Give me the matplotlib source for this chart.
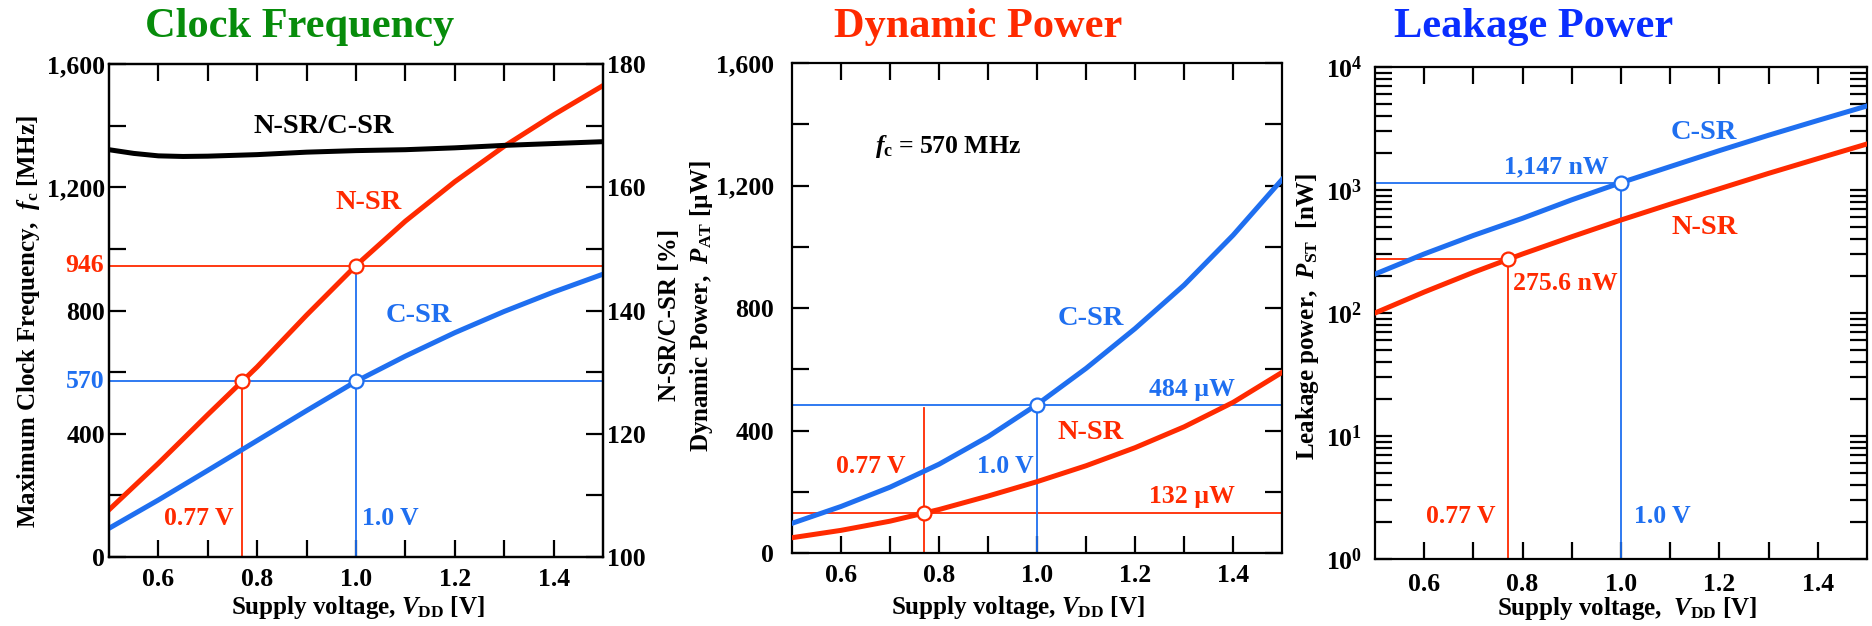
import matplotlib
matplotlib.use('Agg')
import matplotlib.pyplot as plt
import numpy as np
from matplotlib.ticker import LogLocator, NullFormatter

plt.rcParams['font.family'] = 'Liberation Serif'
plt.rcParams['font.weight'] = 'bold'
plt.rcParams['mathtext.fontset'] = 'custom'
plt.rcParams['mathtext.rm'] = 'Liberation Serif'
plt.rcParams['mathtext.it'] = 'Liberation Serif:italic:bold'
plt.rcParams['mathtext.bf'] = 'Liberation Serif:bold'
plt.rcParams['axes.linewidth'] = 1.6

RED = '#ff2a00'
BLUE = '#1f6ff0'

# Data
vdd = [0.5, 0.6, 0.7, 0.8, 0.9, 1.0, 1.1, 1.2, 1.3, 1.4, 1.5]
freq_nsr = [153, 304, 462, 617, 785, 946, 1090, 1218, 1333, 1435, 1530]
freq_csr = [93, 185, 281, 378, 475, 570, 652, 728, 797, 860, 918]
vdd_ratio = [0.5, 0.55, 0.6, 0.65, 0.7, 0.8, 0.9, 1.0, 1.1, 1.2, 1.3, 1.4, 1.5]
ratio = [166.1, 165.5, 165.1, 165.0, 165.05, 165.3, 165.7, 165.95, 166.1, 166.4, 166.8, 167.1, 167.4]
dyn_nsr = [50, 74, 104, 142, 186, 233, 285, 344, 412, 492, 590]
dyn_csr = [97, 152, 215, 290, 380, 485, 603, 733, 875, 1038, 1220]
leak_nsr = [100, 148, 214, 302, 417, 570, 767, 1023, 1365, 1799, 2366]
leak_csr = [207, 302, 427, 589, 832, 1147, 1549, 2089, 2786, 3673, 4820]

# operating points
v_nsr, v_csr = 0.77, 1.0
f_target = 570
f_nsr_1v = 946
p_dyn_nsr, p_dyn_csr = 132, 484
p_leak_nsr, p_leak_csr = 275.6, 1147

xticks = [0.6, 0.7, 0.8, 0.9, 1.0, 1.1, 1.2, 1.3, 1.4]
xlabels = ['0.6', '', '0.8', '', '1.0', '', '1.2', '', '1.4']

fig = plt.figure(figsize=(18.72, 6.26), dpi=100)

TL = 12
TW = 1.6
FS_TICK = 18.5
FS_LAB = 18
FS_NOTE = 18.5
FS_CURVE = 20.5
LW = 3.6
LW_REF = 1.3


def style_x(ax, pad=8):
    ax.set_xlim(0.5, 1.5)
    ax.set_xticks(xticks, xlabels)
    ax.tick_params(axis='x', direction='in', length=TL, width=TW, top=True,
                   labelsize=FS_TICK, pad=pad)


def marker(ax, x, y, color):
    ax.plot([x], [y], 'o', ms=10, mfc='white', mec=color, mew=1.6, zorder=6)


# ---------------- Clock Frequency ----------------
ax1 = fig.add_axes([0.0582, 0.1102, 0.2639, 0.7875])
ax1.axhline(f_nsr_1v, color=RED, lw=LW_REF, zorder=2)
ax1.axhline(f_target, color=BLUE, lw=LW_REF, zorder=2)
ax1.plot([v_nsr, v_nsr], [0, f_target], color=RED, lw=LW_REF, zorder=2)
ax1.plot([v_csr, v_csr], [0, f_nsr_1v], color=BLUE, lw=LW_REF, zorder=2)
ax1.plot(vdd, freq_nsr, color=RED, lw=LW, zorder=3)
ax1.plot(vdd, freq_csr, color=BLUE, lw=LW, zorder=3)
marker(ax1, v_nsr, f_target, RED)
marker(ax1, v_csr, f_target, BLUE)
marker(ax1, v_csr, f_nsr_1v, RED)
style_x(ax1)
ax1.set_ylim(0, 1600)
ax1.set_yticks(np.arange(0, 1601, 200),
               ['0', '', '400', '', '800', '', '1,200', '', '1,600'])
ax1.tick_params(axis='y', direction='in', length=TL, width=TW, right=False,
                labelsize=FS_TICK, pad=3)
ytr = ax1.get_yaxis_transform()
ax1.text(-0.01, f_nsr_1v, '946', color=RED, fontsize=FS_TICK, ha='right', va='center', transform=ytr)
ax1.text(-0.01, f_target, '570', color=BLUE, fontsize=FS_TICK, ha='right', va='center', transform=ytr)

ax1r = ax1.twinx()
ax1r.plot(vdd_ratio, ratio, color='black', lw=LW, zorder=3)
ax1r.set_ylim(100, 180)
ax1r.set_yticks(np.arange(100, 181, 10),
                ['100', '', '120', '', '140', '', '160', '', '180'])
ax1r.tick_params(axis='y', direction='in', length=TL, width=TW,
                 labelsize=FS_TICK, pad=3)

ax1.text(0.934, 1396, 'N-SR/C-SR', color='black', fontsize=FS_CURVE, ha='center', va='center')
ax1.text(1.025, 1149, 'N-SR', color=RED, fontsize=FS_CURVE, ha='center', va='center')
ax1.text(1.128, 785, 'C-SR', color=BLUE, fontsize=FS_CURVE, ha='center', va='center')
ax1.text(0.682, 126, '0.77 V', color=RED, fontsize=FS_NOTE, ha='center', va='center')
ax1.text(1.012, 126, '1.0 V', color=BLUE, fontsize=FS_NOTE, ha='left', va='center')

# ---------------- Dynamic Power ----------------
ax2 = fig.add_axes([0.4231, 0.1166, 0.2618, 0.7827])
ax2.axhline(p_dyn_csr, color=BLUE, lw=LW_REF, zorder=2)
ax2.axhline(p_dyn_nsr, color=RED, lw=LW_REF, zorder=2)
ax2.plot([v_nsr, v_nsr], [0, 473], color=RED, lw=LW_REF, zorder=2)
ax2.plot([v_csr, v_csr], [0, p_dyn_csr], color=BLUE, lw=LW_REF, zorder=2)
ax2.plot(vdd, dyn_csr, color=BLUE, lw=LW, zorder=3)
ax2.plot(vdd, dyn_nsr, color=RED, lw=LW, zorder=3)
marker(ax2, v_nsr, p_dyn_nsr, RED)
marker(ax2, v_csr, p_dyn_csr, BLUE)
style_x(ax2)
ax2.set_ylim(0, 1600)
ax2.set_yticks(np.arange(0, 1601, 200),
               ['0', '', '400', '', '800', '', '1,200', '', '1,600'])
ax2.tick_params(axis='y', direction='in', length=TL, width=TW, right=True,
                labelsize=FS_TICK, pad=13)

ax2.text(0.67, 1326, r'$f_{\mathbf{c}}$ = 570 MHz', color='black', fontsize=FS_NOTE, ha='left', va='center')
ax2.text(1.11, 767, 'C-SR', color=BLUE, fontsize=FS_CURVE, ha='center', va='center')
ax2.text(1.11, 392, 'N-SR', color=RED, fontsize=FS_CURVE, ha='center', va='center')
ax2.text(1.315, 535, '484 µW', color=BLUE, fontsize=FS_NOTE, ha='center', va='center')
ax2.text(1.315, 183, '132 µW', color=RED, fontsize=FS_NOTE, ha='center', va='center')
ax2.text(0.66, 281, '0.77 V', color=RED, fontsize=FS_NOTE, ha='center', va='center')
ax2.text(0.935, 281, '1.0 V', color=BLUE, fontsize=FS_NOTE, ha='center', va='center')

# ---------------- Leakage Power ----------------
ax3 = fig.add_axes([0.7345, 0.107, 0.2628, 0.786])
ax3.set_yscale('log')
ax3.plot([0.5, v_csr], [p_leak_csr, p_leak_csr], color=BLUE, lw=LW_REF, zorder=2)
ax3.plot([v_csr, v_csr], [1, p_leak_csr], color=BLUE, lw=LW_REF, zorder=2)
ax3.plot([0.5, v_nsr], [p_leak_nsr, p_leak_nsr], color=RED, lw=LW_REF, zorder=2)
ax3.plot([v_nsr, v_nsr], [1, p_leak_nsr], color=RED, lw=LW_REF, zorder=2)
ax3.plot(vdd, leak_csr, color=BLUE, lw=LW, zorder=3)
ax3.plot(vdd, leak_nsr, color=RED, lw=LW, zorder=3)
marker(ax3, v_nsr, p_leak_nsr, RED)
marker(ax3, v_csr, p_leak_csr, BLUE)
style_x(ax3, pad=10)
ax3.set_ylim(1, 1e4)
ax3.set_yticks([1, 10, 100, 1000, 10000],
               ['10$^{0}$', '10$^{1}$', '10$^{2}$', '10$^{3}$', '10$^{4}$'])
ax3.yaxis.set_minor_locator(LogLocator(base=10, subs=np.arange(2, 10)))
ax3.yaxis.set_minor_formatter(NullFormatter())
ax3.tick_params(axis='y', which='both', direction='in', length=TL, width=TW,
                right=True, labelsize=FS_TICK, pad=9)

ax3.text(1.168, 2960, 'C-SR', color=BLUE, fontsize=FS_CURVE, ha='center', va='center')
ax3.text(1.17, 500, 'N-SR', color=RED, fontsize=FS_CURVE, ha='center', va='center')
ax3.text(0.975, 1540, '1,147 nW', color=BLUE, fontsize=FS_NOTE, ha='right', va='center')
ax3.text(0.78, 175, '275.6 nW', color=RED, fontsize=FS_NOTE, ha='left', va='center')
ax3.text(0.675, 2.2, '0.77 V', color=RED, fontsize=FS_NOTE, ha='center', va='center')
ax3.text(1.026, 2.2, '1.0 V', color=BLUE, fontsize=FS_NOTE, ha='left', va='center')

# ---------------- titles and axis labels ----------------
fig.text(0.160, 0.941, 'Clock Frequency', color='#078c0b', fontsize=30.5, ha='center', va='baseline')
fig.text(0.5225, 0.941, 'Dynamic Power', color='#ff2a00', fontsize=30.5, ha='center', va='baseline')
fig.text(0.819, 0.941, 'Leakage Power', color='#0a2eff', fontsize=30.5, ha='center', va='baseline')

fig.text(0.1912, 0.0188, r'Supply voltage, $V_{\mathbf{DD}}$ [V]', fontsize=FS_LAB, ha='center', va='baseline')
fig.text(0.5438, 0.0188, r'Supply voltage, $V_{\mathbf{DD}}$ [V]', fontsize=FS_LAB, ha='center', va='baseline')
fig.text(0.869, 0.0176, r'Supply voltage,  $V_{\mathbf{DD}}$ [V]', fontsize=FS_LAB, ha='center', va='baseline')

fig.text(0.015, 0.4856, r'Maximum Clock Frequency,  $f_{\mathbf{c}}$ [MHz]', fontsize=FS_LAB,
         rotation=90, ha='center', va='center')
fig.text(0.3579, 0.4976, 'N-SR/C-SR [%]', fontsize=FS_LAB, rotation=90, ha='center', va='center')
fig.text(0.3745, 0.5112, r'Dynamic Power,  $P_{\mathbf{AT}}$ [µW]', fontsize=FS_LAB,
         rotation=90, ha='center', va='center')
fig.text(0.6987, 0.4952, r'Leakage power,  $P_{\mathbf{ST}}$  [nW]', fontsize=FS_LAB,
         rotation=90, ha='center', va='center')

plt.savefig('out.png', dpi=100)
